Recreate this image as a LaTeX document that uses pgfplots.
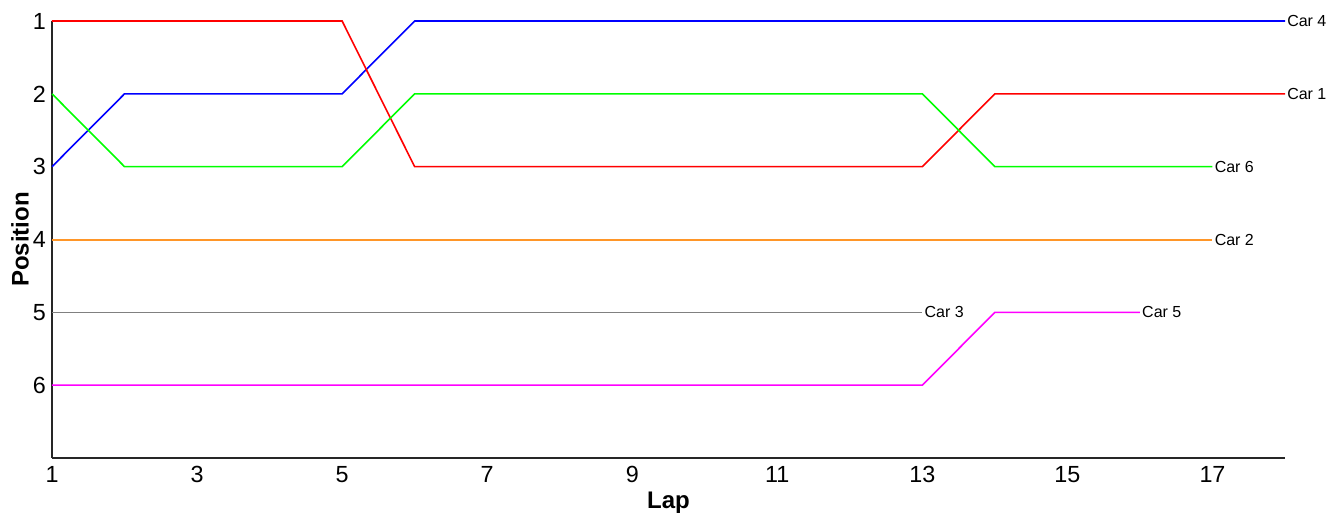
\documentclass[border=0pt]{standalone}
\usepackage{fontspec}
\setmainfont{Liberation Sans}
\usepackage{pgfplots}
\pgfplotsset{compat=1.18}
\definecolor{carred}{RGB}{255,0,0}
\definecolor{carblue}{RGB}{0,0,255}
\definecolor{cargreen}{RGB}{0,255,0}
\definecolor{carorange}{RGB}{255,150,40}
\definecolor{cargray}{RGB}{128,128,128}
\definecolor{carmag}{RGB}{255,0,255}
\begin{document}
\begin{tikzpicture}
\begin{axis}[
  at={(0,0)}, anchor=south west,
  scale only axis,
  width=924.75pt, height=327.75pt,
  xmin=1, xmax=18, ymin=1, ymax=7,
  y dir=reverse,
  axis x line=bottom, axis y line=left,
  axis line style={-, black!85, line width=0.8pt},
  xtick={1,3,...,17}, ytick={1,2,3,4,5,6},
  major tick length=0pt,
  /pgf/number format/assume math mode=true,
  tick label style={font=\fontsize{17.5}{20}\selectfont},
  xticklabel style={anchor=base, inner sep=0pt, yshift=-18pt},
  yticklabel style={anchor=base east, inner sep=0pt, xshift=-4.5pt, yshift=-6.2pt},
  xlabel={\textbf{Lap}},
  ylabel={\textbf{Position}},
  label style={font=\fontsize{18}{21}\selectfont},
  xlabel style={at={(axis description cs:0.5,0)}, anchor=base, yshift=-37.5pt},
  ylabel style={at={(axis description cs:-0.026,0.5)}, anchor=center},
  clip=false,
  every axis plot/.append style={line width=1.2pt},
]
% Car 4
\addplot[draw=carblue] coordinates {(1,3)(2,2)(3,2)(4,2)(5,2)(6,1)(7,1)(8,1)(9,1)(10,1)(11,1)(12,1)(13,1)(14,1)(15,1)(16,1)(17,1)(18,1)};
% Car 1
\addplot[draw=carred] coordinates {(1,1)(2,1)(3,1)(4,1)(5,1)(6,3)(7,3)(8,3)(9,3)(10,3)(11,3)(12,3)(13,3)(14,2)(15,2)(16,2)(17,2)(18,2)};
% Car 6
\addplot[draw=cargreen] coordinates {(1,2)(2,3)(3,3)(4,3)(5,3)(6,2)(7,2)(8,2)(9,2)(10,2)(11,2)(12,2)(13,2)(14,3)(15,3)(16,3)(17,3)};
% Car 2
\addplot[draw=carorange, line width=1.5pt] coordinates {(1,4)(2,4)(3,4)(4,4)(5,4)(6,4)(7,4)(8,4)(9,4)(10,4)(11,4)(12,4)(13,4)(14,4)(15,4)(16,4)(17,4)};
% Car 3
\addplot[draw=cargray, line width=1.1pt] coordinates {(1,5)(2,5)(3,5)(4,5)(5,5)(6,5)(7,5)(8,5)(9,5)(10,5)(11,5)(12,5)(13,5)};
% Car 5
\addplot[draw=carmag] coordinates {(1,6)(2,6)(3,6)(4,6)(5,6)(6,6)(7,6)(8,6)(9,6)(10,6)(11,6)(12,6)(13,6)(14,5)(15,5)(16,5)};
\begin{scope}[every node/.style={anchor=west, inner sep=1.5pt, font=\fontsize{12}{14}\selectfont}]
\node at (axis cs:18,1) {Car 4};
\node at (axis cs:18,2) {Car 1};
\node at (axis cs:17,3) {Car 6};
\node at (axis cs:17,4) {Car 2};
\node at (axis cs:13,5) {Car 3};
\node at (axis cs:16,5) {Car 5};
\end{scope}
\end{axis}
\pgfresetboundingbox
\path (-39pt,-44.25pt) rectangle (959.25pt,343.5pt);
\end{tikzpicture}
\end{document}
